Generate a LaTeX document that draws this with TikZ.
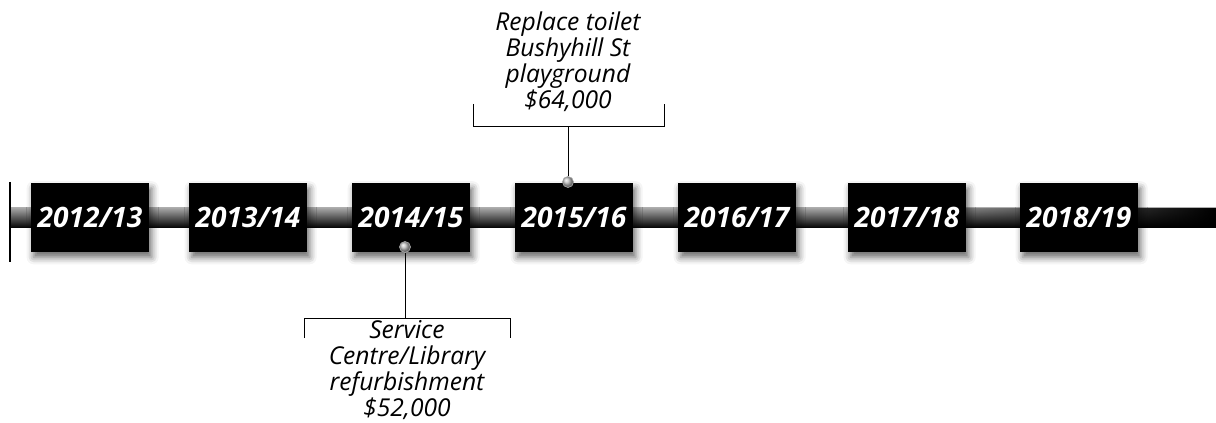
\documentclass[tikz,border=0pt]{standalone}
\usepackage{fontspec}
\setmainfont{Open Sans}
\usetikzlibrary{shadows.blur,fadings}

\tikzfading[name=darkend, left color=transparent!100, right color=transparent!0]
\tikzset{
  year/.style={fill=black, minimum width=2.36cm, minimum height=1.38cm, inner sep=0pt,
    text=white, font=\bfseries\itshape\fontsize{16}{19}\selectfont,
    blur shadow={shadow opacity=60, shadow xshift=1.5pt, shadow yshift=-3pt, shadow blur radius=4pt}},
  note/.style={align=center, font=\itshape\fontsize{14}{14.8}\selectfont},
  pin/.style={circle, inner sep=0pt, minimum size=0.22cm, draw=gray!70, ball color=gray!50}
}

\begin{document}
\begin{tikzpicture}
        \useasboundingbox (0,0) rectangle (24.32,-8.46);
        % Bar
        \shade[top color=gray!70, middle color=white, bottom color=black] (0.2,-4.16) rectangle (24.32,-4.56);
        \fill[black, path fading=darkend] (18,-4.16) rectangle (24.32,-4.56);
        \draw[line width=1.2pt] (0.2,-3.64) coordinate (starttop) -- (0.2,-5.24) coordinate (startbot);
        % Years
        \node[year] (y1) at (1.8,-4.35) {2012/13};
        \node[year] (y2) at (4.96,-4.35) {2013/14};
        \node[year] (y3) at (8.22,-4.35) {2014/15};
        \node[year] (y4) at (11.48,-4.35) {2015/16};
        \node[year] (y5) at (14.74,-4.35) {2016/17};
        \node[year] (y6) at (18.14,-4.35) {2017/18};
        \node[year] (y7) at (21.58,-4.35) {2018/19};
        % Above
        \node[pin] (pintop) at (11.36,-3.64) {};
        \coordinate (stemtop) at (11.36,-2.52);
        \draw (pintop) -- (stemtop);
        \draw (9.46,-2.08) -- (9.46,-2.52) -- (13.28,-2.52) -- (13.28,-2.08);
        \node[note] (toilet) at (11.36,-1.24) {Replace toilet\\Bushyhill St\\playground\\\$64,000};
        % Below
        \node[pin] (pinbot) at (8.1,-4.94) {};
        \coordinate (stembot) at (8.1,-6.36);
        \draw (pinbot) -- (stembot);
        \draw (6.08,-6.76) -- (6.08,-6.36) -- (10.2,-6.36) -- (10.2,-6.76);
        \node[note] (library) at (8.14,-7.4) {Service\\Centre/Library\\refurbishment\\\$52,000};
\end{tikzpicture}
\end{document}
